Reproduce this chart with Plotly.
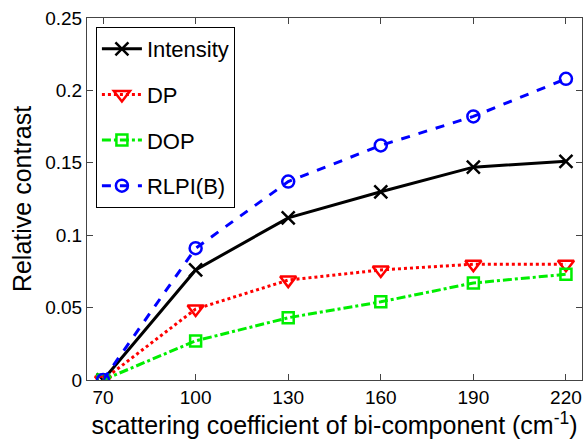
import plotly.graph_objects as go

x_vals = [70, 100, 130, 160, 190, 220]
intensity = [0.0, 0.076, 0.112, 0.130, 0.147, 0.151]
dp = [0.0, 0.049, 0.069, 0.076, 0.080, 0.080]
dop = [0.0, 0.027, 0.043, 0.054, 0.067, 0.073]
rlpi = [0.0, 0.091, 0.137, 0.162, 0.182, 0.208]
x_ticks = [70, 100, 130, 160, 190, 220]
y_ticks = [0, 0.05, 0.1, 0.15, 0.2, 0.25]
y_tick_labels = ["0", "0.05", "0.1", "0.15", "0.2", "0.25"]

FONT = "Liberation Sans"

fig = go.Figure()
series = [
    ("Intensity", intensity, "black", "solid", "x-thin-open", 13),
    ("DP", dp, "red", "dot", "triangle-down-open", 14),
    ("DOP", dop, "#00ee00", "dashdot", "square-open", 11),
    ("RLPI(B)", rlpi, "blue", "dash", "circle-open", 12),
]
for i, (name, y, c, dash, sym, sz) in enumerate(series):
    fig.add_trace(go.Scatter(
        x=x_vals, y=y, name=name, mode="lines+markers",
        line=dict(color=c, width=3, dash=dash),
        marker=dict(symbol=sym, size=sz, color=c, line=dict(color=c, width=2.5)),
        legendgroup=f"g{i}",
    ))

axis_common = dict(
    showline=True, linecolor="#444", linewidth=1, mirror="ticks",
    ticks="inside", ticklen=6, tickcolor="#444", showgrid=False, zeroline=False,
    tickfont=dict(family=FONT, size=19, color="black"),
)
fig.update_xaxes(range=[64.8, 225.2], tickvals=x_ticks,
                 title=dict(text="scattering coefficient of bi-component (cm<sup>-1</sup>)",
                            font=dict(family=FONT, size=25, color="black"), standoff=0),
                 **axis_common)
fig.update_yaxes(range=[0, 0.25], tickvals=y_ticks, ticktext=y_tick_labels,
                 title=dict(text="Relative contrast", font=dict(family=FONT, size=25, color="black"), standoff=6),
                 **axis_common)

fig.update_layout(
    width=585, height=440,
    margin=dict(l=87, r=3, t=18, b=60),
    plot_bgcolor="white", paper_bgcolor="white",
    font=dict(family=FONT, color="black"),
    legend=dict(x=0.018, y=0.975, xanchor="left", yanchor="top",
                bgcolor="white", bordercolor="black", borderwidth=1,
                font=dict(family=FONT, size=22, color="black"),
                tracegroupgap=14, itemwidth=40),
)

fig.write_html("out.html")
